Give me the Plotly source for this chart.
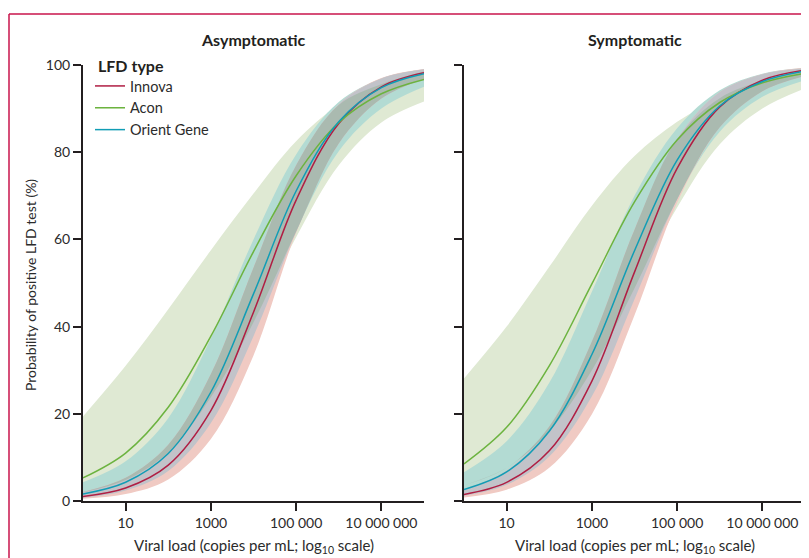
import numpy as np
import plotly.graph_objects as go

# ---------------- data ----------------
log_vl = [0, 1, 2, 3, 4, 5, 6, 7, 8]          # log10 viral load
x_tickvals = [1, 3, 5, 7]
x_ticktext = ["10", "1000", "100 000", "10 000 000"]
y_tickvals = [0, 20, 40, 60, 80, 100]

# Asymptomatic panel
innova_asym_mean = [1.05, 2.99, 8.24, 20.75, 43.3, 69.0, 86.6, 95.0, 98.2]
innova_asym_lo   = [0.50, 1.58, 4.93, 14.2, 33.4, 61.5, 82.0, 92.3, 96.8]
innova_asym_hi   = [2.08, 5.31, 12.9, 29.1, 53.5, 77.0, 91.0, 97.0, 99.1]
acon_asym_mean   = [5.3, 11.0, 21.5, 37.8, 57.2, 74.6, 86.8, 93.4, 96.7]
acon_asym_lo     = [2.0, 4.8, 11.2, 23.8, 41.0, 60.5, 77.0, 86.8, 91.6]
acon_asym_hi     = [19.4, 31.0, 44.0, 57.5, 70.5, 82.5, 90.8, 95.6, 98.5]
orient_asym_mean = [1.63, 4.31, 10.9, 25.0, 47.5, 71.1, 87.0, 94.8, 98.0]
orient_asym_lo   = [0.74, 2.41, 6.9, 17.9, 37.8, 61.8, 80.2, 90.0, 95.0]
orient_asym_hi   = [4.31, 9.1, 19.0, 37.3, 60.0, 79.5, 91.5, 96.9, 99.0]

# Symptomatic panel
innova_sym_mean = [1.51, 4.27, 11.5, 27.5, 52.5, 76.3, 90.4, 96.5, 98.8]
innova_sym_lo   = [0.83, 2.58, 7.6, 19.9, 42.6, 68.4, 85.7, 94.0, 97.5]
innova_sym_hi   = [2.71, 6.98, 17.1, 36.6, 62.2, 83.0, 93.8, 97.9, 99.4]
acon_sym_mean   = [8.5, 16.9, 31.0, 49.8, 68.6, 82.8, 91.4, 95.9, 98.1]
acon_sym_lo     = [3.6, 7.6, 16.0, 30.0, 48.8, 67.3, 81.8, 90.0, 94.6]
acon_sym_hi     = [28.1, 40.0, 53.7, 67.7, 79.1, 87.0, 92.4, 96.4, 98.7]
orient_sym_mean = [2.61, 6.66, 16.0, 33.6, 57.4, 78.2, 90.6, 96.2, 98.6]
orient_sym_lo   = [1.19, 3.70, 10.2, 24.0, 46.3, 69.2, 84.7, 92.7, 96.5]
orient_sym_hi   = [6.6, 13.7, 27.1, 48.0, 70.0, 85.5, 94.2, 98.0, 99.3]

# ---------------- styling ----------------
FONT = "Lato"
TXT = "#2b2b2b"
AX = "#231f20"
C_INNOVA = "#b01e43"
C_ACON = "#6cb33f"
C_ORIENT = "#119db5"
F_G = "#dfe9d3"      # Acon band
F_GT = "#b3dbd3"     # Orient band (over Acon)
F_P = "#f0cac3"      # Innova band
F_TP = "#c2c3c9"     # Innova ∩ Orient
F_GTP = "#aabab0"    # all three

fig = go.Figure()


def band(lo, hi, color, xa, ya):
    lo = np.asarray(lo, float)
    hi = np.maximum(np.asarray(hi, float), lo)
    fig.add_trace(go.Scatter(x=log_vl, y=lo, mode="lines", line=dict(width=0, shape="spline"),
                             showlegend=False, hoverinfo="skip", xaxis=xa, yaxis=ya))
    fig.add_trace(go.Scatter(x=log_vl, y=hi, mode="lines", line=dict(width=0, shape="spline"),
                             fill="tonexty", fillcolor=color, showlegend=False, hoverinfo="skip",
                             xaxis=xa, yaxis=ya))


panels = [
    ("x", "y", (innova_asym_mean, innova_asym_lo, innova_asym_hi),
     (acon_asym_mean, acon_asym_lo, acon_asym_hi),
     (orient_asym_mean, orient_asym_lo, orient_asym_hi), True),
    ("x2", "y2", (innova_sym_mean, innova_sym_lo, innova_sym_hi),
     (acon_sym_mean, acon_sym_lo, acon_sym_hi),
     (orient_sym_mean, orient_sym_lo, orient_sym_hi), False),
]

for xa, ya, inn, acn, ori, show in panels:
    g_lo, g_hi = np.array(acn[1]), np.array(acn[2])
    t_lo, t_hi = np.array(ori[1]), np.array(ori[2])
    p_lo, p_hi = np.array(inn[1]), np.array(inn[2])
    band(g_lo, g_hi, F_G, xa, ya)
    band(t_lo, t_hi, F_GT, xa, ya)
    band(p_lo, p_hi, F_P, xa, ya)
    band(np.maximum(t_lo, p_lo), np.minimum(t_hi, p_hi), F_TP, xa, ya)
    band(np.maximum.reduce([g_lo, t_lo, p_lo]), np.minimum.reduce([g_hi, t_hi, p_hi]), F_GTP, xa, ya)
    for name, series, col in [("Innova", inn, C_INNOVA), ("Acon", acn, C_ACON), ("Orient Gene", ori, C_ORIENT)]:
        fig.add_trace(go.Scatter(x=log_vl, y=series[0], mode="lines", name=name,
                                 line=dict(color=col, width=1.5, shape="spline"),
                                 showlegend=show, xaxis=xa, yaxis=ya))

# ---------------- layout ----------------
# The page body has an 8 px default margin; positions below are given in
# screen pixels of the 809x558 window and converted to figure coordinates.
OFF = 8
W, H = 809 - OFF, 558 - OFF
PLOT_L, PLOT_R, PLOT_T, PLOT_B = 83, 805, 65, 501      # screen px
ML, MR = PLOT_L - OFF, (W + OFF) - PLOT_R
MT, MB = PLOT_T - OFF, (H + OFF) - PLOT_B
PW = PLOT_R - PLOT_L
PH = PLOT_B - PLOT_T


def px_x(px):
    return (px - PLOT_L) / PW


def px_y(py):
    return (PLOT_B - py) / PH


axis_common = dict(showline=True, linecolor=AX, linewidth=2, ticks="outside", ticklen=8,
                   tickwidth=2, tickcolor=AX, showgrid=False, zeroline=False,
                   tickfont=dict(family=FONT, size=14, color=TXT))

fig.update_layout(
    width=W, height=H,
    margin=dict(l=ML, r=MR, t=MT, b=MB, autoexpand=False),
    paper_bgcolor="white", plot_bgcolor="white",
    font=dict(family=FONT, size=14, color=TXT),
    xaxis=dict(domain=[0, px_x(424)], range=[0, 8], tickvals=x_tickvals, ticktext=x_ticktext,
               anchor="y", **axis_common),
    yaxis=dict(domain=[0, 1], range=[0, 100], tickvals=y_tickvals, anchor="x", **axis_common),
    xaxis2=dict(domain=[px_x(464), 1], range=[0, 8], tickvals=x_tickvals, ticktext=x_ticktext,
                anchor="y2", **axis_common),
    yaxis2=dict(domain=[0, 1], range=[0, 100], tickvals=y_tickvals, showticklabels=False,
                anchor="x2", **axis_common),
    showlegend=True,
    legend=dict(x=px_x(90), y=px_y(70), xanchor="left", yanchor="top", traceorder="normal",
                bgcolor="rgba(0,0,0,0)", font=dict(family=FONT, size=14.5, color=TXT),
                tracegroupgap=0, itemwidth=30),
)

annotations = [
    dict(text="<b>LFD type</b>", xref="paper", yref="paper", x=px_x(96), y=px_y(65),
         xanchor="left", yanchor="middle", showarrow=False,
         font=dict(family=FONT, size=16, color=AX)),
    dict(text="<b>Asymptomatic</b>", xref="x domain", yref="paper", x=0.5, y=px_y(40),
         xanchor="center", yanchor="middle", showarrow=False,
         font=dict(family=FONT, size=16, color=AX)),
    dict(text="<b>Symptomatic</b>", xref="x2 domain", yref="paper", x=0.5, y=px_y(40),
         xanchor="center", yanchor="middle", showarrow=False,
         font=dict(family=FONT, size=16, color=AX)),
    dict(text="Viral load (copies per mL; log<sub>10</sub> scale)", xref="x domain", yref="paper",
         x=0.5, y=px_y(546), xanchor="center", yanchor="middle", showarrow=False,
         font=dict(family=FONT, size=15, color=TXT)),
    dict(text="Viral load (copies per mL; log<sub>10</sub> scale)", xref="x2 domain", yref="paper",
         x=0.5, y=px_y(546), xanchor="center", yanchor="middle", showarrow=False,
         font=dict(family=FONT, size=15, color=TXT)),
    dict(text="Probability of positive LFD test (%)", xref="paper", yref="paper",
         x=px_x(30), y=px_y(285), xanchor="center", yanchor="middle", textangle=-90,
         showarrow=False, font=dict(family=FONT, size=14, color=TXT)),
]
fig.update_layout(annotations=annotations)

# frame border (top and left edges visible)
BORDER = "#c8144b"
fig.add_shape(type="line", xref="paper", yref="paper", x0=px_x(9), x1=px_x(812),
              y0=px_y(14), y1=px_y(14), line=dict(color=BORDER, width=1.5))
fig.add_shape(type="line", xref="paper", yref="paper", x0=px_x(9), x1=px_x(9),
              y0=px_y(14), y1=px_y(560), line=dict(color=BORDER, width=1.5))
# x-axis line of the right panel runs on to the frame edge
fig.add_shape(type="line", xref="paper", yref="paper", x0=px_x(805), x1=px_x(812),
              y0=0, y1=0, line=dict(color=AX, width=2))

fig.write_html("out.html")
